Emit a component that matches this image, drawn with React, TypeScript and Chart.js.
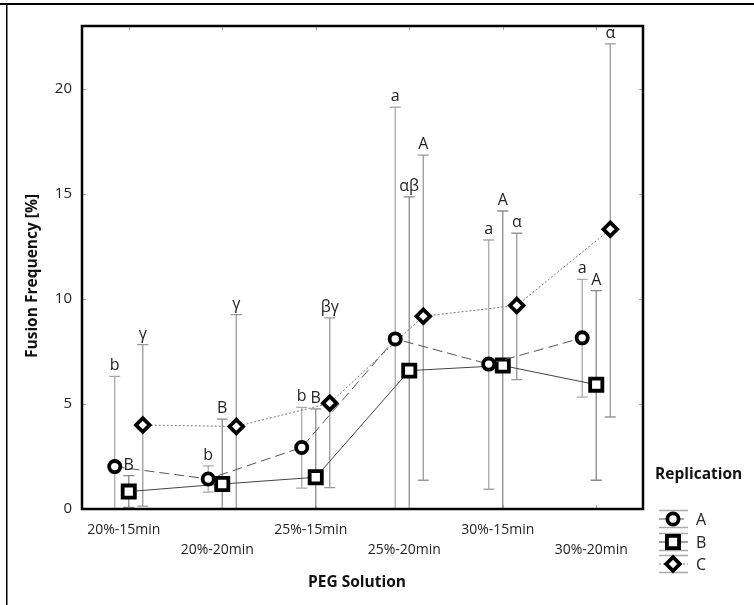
import React, { useEffect, useRef } from "react";
import { Chart, registerables } from "chart.js";

Chart.register(...registerables);

const CATS = ["20%-15min", "20%-20min", "25%-15min", "25%-20min", "30%-15min", "30%-20min"];
const Y_TICKS = [0, 5, 10, 15, 20];
const SERIES_NAMES = ["A", "B", "C"];

const A_MEAN = [2.02, 1.43, 2.93, 8.1, 6.9, 8.15];
const A_LOW = [0, 0.8, 0.99, 0, 0.94, 5.33];
const A_HIGH = [6.32, 2.05, 4.84, 19.13, 12.81, 10.93];
const A_SIG = ["b", "b", "b", "a", "a", "a"];

const B_MEAN = [0.83, 1.19, 1.51, 6.59, 6.83, 5.92];
const B_LOW = [0.08, 0, 0, 0, 0, 1.37];
const B_HIGH = [1.59, 4.28, 4.77, 14.86, 14.19, 10.4];
const B_SIG = ["B", "B", "B", "αβ", "A", "A"];

const C_MEAN = [4.0, 3.93, 5.04, 9.18, 9.69, 13.32];
const C_LOW = [0.14, 0, 1.02, 1.37, 6.16, 4.38];
const C_HIGH = [7.83, 9.26, 9.1, 16.85, 13.13, 22.15];
const C_SIG = ["γ", "γ", "βγ", "A", "α", "α"];

const OFFSETS = [-0.15, 0, 0.15];
const FONT = "'Open Sans', 'Noto Sans', sans-serif";

const SERIES = [
  { name: SERIES_NAMES[0], mean: A_MEAN, low: A_LOW, high: A_HIGH, sig: A_SIG, style: "circle", radius: 5.6, dash: [10, 5], lineColor: "#555", barColor: "#aaa" },
  { name: SERIES_NAMES[1], mean: B_MEAN, low: B_LOW, high: B_HIGH, sig: B_SIG, style: "rect", radius: 8.6, dash: [], lineColor: "#444", barColor: "#8a8a8a" },
  { name: SERIES_NAMES[2], mean: C_MEAN, low: C_LOW, high: C_HIGH, sig: C_SIG, style: "rectRot", radius: 6.8, dash: [2, 2], lineColor: "#777", barColor: "#999" },
];

const MARK_W = 3.8;

const decorPlugin = {
  id: "decor",
  beforeDraw(chart: any) {
    const ctx = chart.ctx;
    ctx.save();
    ctx.fillStyle = "#fff";
    ctx.fillRect(0, 0, chart.width, chart.height);
    ctx.fillStyle = "#000";
    ctx.fillRect(0, 3, chart.width, 2);
    ctx.fillRect(6, 3, 1.5, chart.height);
    ctx.restore();
  },
  beforeDatasetsDraw(chart: any) {
    const ctx = chart.ctx;
    const xs = chart.scales.x;
    const ys = chart.scales.y;
    ctx.save();
    SERIES.forEach((s, si) => {
      s.mean.forEach((_, i) => {
        const x = xs.getPixelForValue(i + OFFSETS[si]);
        const yl = ys.getPixelForValue(s.low[i]);
        const yh = ys.getPixelForValue(s.high[i]);
        ctx.strokeStyle = s.barColor;
        ctx.lineWidth = 1.3;
        ctx.beginPath();
        ctx.moveTo(x, yl);
        ctx.lineTo(x, yh);
        ctx.moveTo(x - 5.5, yh);
        ctx.lineTo(x + 5.5, yh);
        ctx.moveTo(x - 5.5, yl);
        ctx.lineTo(x + 5.5, yl);
        ctx.stroke();
      });
    });
    ctx.restore();
  },
  afterDatasetsDraw(chart: any) {
    const ctx = chart.ctx;
    const xs = chart.scales.x;
    const ys = chart.scales.y;
    const a = chart.chartArea;
    ctx.save();
    // significance letters
    ctx.fillStyle = "#222";
    ctx.font = `16px ${FONT}`;
    ctx.textAlign = "center";
    ctx.textBaseline = "alphabetic";
    SERIES.forEach((s, si) => {
      s.mean.forEach((_, i) => {
        const x = xs.getPixelForValue(i + OFFSETS[si]);
        const yh = ys.getPixelForValue(s.high[i]);
        ctx.fillText(s.sig[i], x, yh - 6);
      });
    });
    // inward tick marks
    ctx.strokeStyle = "#aaa";
    ctx.lineWidth = 1;
    ctx.beginPath();
    xs.ticks.forEach((t: any) => {
      const x = Math.round(xs.getPixelForValue(t.value)) + 0.5;
      ctx.moveTo(x, a.top);
      ctx.lineTo(x, a.top + 4);
      ctx.moveTo(x, a.bottom);
      ctx.lineTo(x, a.bottom - 4);
    });
    ys.ticks.forEach((t: any) => {
      const y = Math.round(ys.getPixelForValue(t.value)) + 0.5;
      ctx.moveTo(a.left, y);
      ctx.lineTo(a.left + 4, y);
      ctx.moveTo(a.right, y);
      ctx.lineTo(a.right - 4, y);
    });
    ctx.stroke();
    // plot frame
    ctx.strokeStyle = "#000";
    ctx.lineWidth = 2.5;
    ctx.strokeRect(a.left, a.top, a.right - a.left, a.bottom - a.top);
    // axis titles
    ctx.fillStyle = "#111";
    ctx.font = `bold 15.5px ${FONT}`;
    ctx.textAlign = "center";
    ctx.textBaseline = "middle";
    ctx.fillText("PEG Solution", 357, 583);
    ctx.save();
    ctx.translate(33, 276);
    ctx.rotate(-Math.PI / 2);
    ctx.font = `bold 15.5px ${FONT}`;
    ctx.fillText("Fusion Frequency [%]", 0, 0);
    ctx.restore();
    // legend
    ctx.textAlign = "left";
    ctx.font = `bold 15.5px ${FONT}`;
    ctx.fillText("Replication", 655, 475);
    const lx = 673;
    const legY = [519, 542, 564];
    SERIES.forEach((s, si) => {
      const y = legY[si];
      ctx.strokeStyle = "#aaa";
      ctx.lineWidth = 1.3;
      ctx.setLineDash([]);
      ctx.beginPath();
      ctx.moveTo(659, y - 8.5);
      ctx.lineTo(688, y - 8.5);
      ctx.moveTo(659, y + 8.5);
      ctx.lineTo(688, y + 8.5);
      ctx.stroke();
      ctx.strokeStyle = s.lineColor;
      ctx.lineWidth = 1;
      ctx.setLineDash(s.dash);
      ctx.beginPath();
      ctx.moveTo(659, y);
      ctx.lineTo(688, y);
      ctx.stroke();
      ctx.setLineDash([]);
      ctx.fillStyle = "#fff";
      ctx.strokeStyle = "#000";
      ctx.lineWidth = MARK_W;
      ctx.beginPath();
      if (s.style === "circle") {
        ctx.arc(lx, y, s.radius, 0, Math.PI * 2);
      } else if (s.style === "rect") {
        const h = s.radius * Math.SQRT1_2;
        ctx.rect(lx - h, y - h, 2 * h, 2 * h);
      } else {
        const r = s.radius;
        ctx.moveTo(lx, y - r);
        ctx.lineTo(lx + r, y);
        ctx.lineTo(lx, y + r);
        ctx.lineTo(lx - r, y);
        ctx.closePath();
      }
      ctx.fill();
      ctx.stroke();
      ctx.fillStyle = "#222";
      ctx.font = `16px ${FONT}`;
      ctx.fillText(s.name, 696, y + 1);
    });
    ctx.restore();
  },
};

export default function App() {
  const ref = useRef<HTMLCanvasElement | null>(null);
  useEffect(() => {
    if (!ref.current) return;
    const datasets = SERIES.map((s, si) => ({
      label: s.name,
      data: s.mean.map((v, i) => ({ x: i + OFFSETS[si], y: v })),
      borderColor: s.lineColor,
      borderWidth: 1,
      borderDash: s.dash,
      pointStyle: s.style,
      pointRadius: s.radius,
      pointBorderWidth: MARK_W,
      pointBorderColor: "#000",
      pointBackgroundColor: "#fff",
      pointHoverRadius: s.radius,
      fill: false,
      tension: 0,
    }));
    const chart = new Chart(ref.current, {
      type: "line",
      data: { datasets },
      options: {
        responsive: false,
        animation: false,
        events: [],
        layout: { padding: { left: 0, right: 111, top: 26, bottom: 0 } },
        plugins: { legend: { display: false }, tooltip: { enabled: false }, title: { display: false } },
        scales: {
          x: {
            type: "linear",
            min: -0.5,
            max: 5.5,
            afterFit: (s: any) => { s.height = 96; },
            afterBuildTicks: (s: any) => { s.ticks = CATS.map((_, i) => ({ value: i })); },
            grid: { display: false, drawTicks: false },
            border: { display: false },
            ticks: {
              autoSkip: false,
              maxRotation: 0,
              minRotation: 0,
              padding: 11,
              labelOffset: -5,
              color: "#222",
              font: { family: FONT, size: 14, lineHeight: 20 / 14 },
              callback: (_v: any, i: number) => (i % 2 === 0 ? [CATS[i]] : ["", CATS[i]]),
            },
          },
          y: {
            type: "linear",
            min: 0,
            max: 23,
            afterFit: (s: any) => { s.width = 82; },
            afterBuildTicks: (s: any) => { s.ticks = Y_TICKS.map((v) => ({ value: v })); },
            grid: { display: false, drawTicks: false },
            border: { display: false },
            ticks: {
              padding: 10,
              color: "#222",
              font: { family: FONT, size: 15 },
              callback: (v: any) => String(v),
            },
          },
        },
      },
      plugins: [decorPlugin],
    } as any);
    return () => chart.destroy();
  }, []);
  return (
    <div style={{ position: "absolute", left: 0, top: 0, width: 754, height: 605 }}>
      <canvas ref={ref} width={754} height={605} style={{ display: "block" }} />
    </div>
  );
}
